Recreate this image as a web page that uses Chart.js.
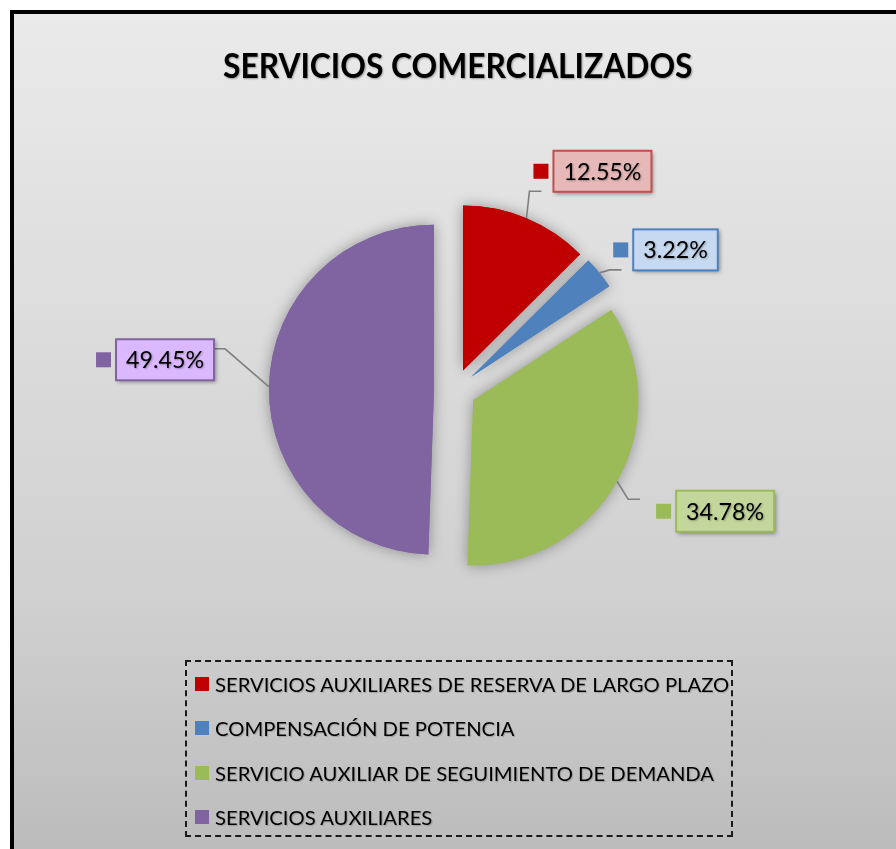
<!DOCTYPE html>
<html>
<head>
<meta charset="utf-8">
<script src="https://cdn.jsdelivr.net/npm/chart.js@4.4.1/dist/chart.umd.min.js"></script>
<style>
  html, body { margin: 0; padding: 0; background: #fff; }
  body { width: 896px; height: 849px; position: relative; overflow: hidden; font-family: Lato, "Open Sans", sans-serif; }
  #frame {
    position: absolute; left: 10px; top: 10px; width: 882px; height: 835px;
    border-left: 4px solid #000; border-top: 4px solid #000;
    background: linear-gradient(#eaeaea, #d0d0d0 70%, #bcbcbc);
  }
  #pie { position: absolute; left: 0; top: 0; }
  #title {
    position: absolute; left: 0; top: 47px; width: 915px; text-align: center;
    font-weight: bold; font-size: 35px; line-height: 35px; color: #000;
    text-shadow: 1px 1px 2px rgba(0,0,0,0.35); white-space: nowrap;
  }
  #title span { display: inline-block; }
  #legend {
    position: absolute; left: 185px; top: 660px; width: 544px; height: 173px;
    border: 2px dashed #1a1a1a;
  }
  .row { position: absolute; left: 8px; height: 20px; white-space: nowrap; }
  .row i { position: absolute; left: 0; top: 3px; width: 14px; height: 14px; }
  .row span {
    position: absolute; left: 20px; top: 0; font-size: 20px; line-height: 20px;
    transform-origin: 0 0; text-shadow: 1px 1px 1px rgba(0,0,0,0.2);
  }
</style>
</head>
<body>
<div id="frame"></div>
<canvas id="pie" width="896" height="849"></canvas>
<div id="title"><span>SERVICIOS COMERCIALIZADOS</span></div>
<div id="legend"></div>
<script>
const categories = [
  'SERVICIOS AUXILIARES DE RESERVA DE LARGO PLAZO',
  'COMPENSACIÓN DE POTENCIA',
  'SERVICIO AUXILIAR DE SEGUIMIENTO DE DEMANDA',
  'SERVICIOS AUXILIARES'
];
const shares = [12.55, 3.22, 34.78, 49.45];

const sliceColors = ['#c00000', '#4f81bd', '#9bbb59', '#8064a2'];
const boxFills = ['#e6b9b8', '#c6d9f1', '#c3d69b', '#dbb8ff'];
const boxLines = ['#c0504d', '#4f81bd', '#9bbb59', '#8064a2'];
// label box centre, measured from the rim point of its slice
const labelShift = [[76, -47], [76, -23], [108, 30], [-104, -27]];
// where the leader line meets the label, from the box centre
const leaderEnd = [[-61, 20], [-54, 20], [-85, -12], [48, -11]];
const explode = 21;

// title squeezed to the narrow look of the original
const titleSpan = document.querySelector('#title span');
titleSpan.style.transform = 'scaleX(' + (469 / titleSpan.offsetWidth) + ')';

// legend
const legend = document.getElementById('legend');
categories.forEach((name, i) => {
  const row = document.createElement('div');
  row.className = 'row';
  row.style.top = (11.5 + 44.6 * i) + 'px';
  row.innerHTML = '<i style="background:' + sliceColors[i] + '"></i><span>' + name + '</span>';
  legend.appendChild(row);
});
const spans = legend.querySelectorAll('.row span');
const squeezeLegend = 514 / spans[0].offsetWidth;
spans.forEach(s => s.style.transform = 'scaleX(' + squeezeLegend + ')');

const explodedPie = {
  id: 'explodedPie',
  beforeDatasetDraw(chart, args) {
    const ctx = chart.ctx;
    const arcs = args.meta.data;
    [0, 1].forEach(pass => {
      arcs.forEach(arc => {
        const mid = (arc.startAngle + arc.endAngle) / 2;
        ctx.save();
        if (pass === 0) {
          ctx.shadowColor = 'rgba(0,0,0,0.35)';
          ctx.shadowBlur = 14;
        }
        ctx.translate(Math.cos(mid) * explode, Math.sin(mid) * explode);
        arc.draw(ctx);
        ctx.restore();
      });
    });
    return false;
  },
  afterDatasetsDraw(chart) {
    const ctx = chart.ctx;
    const arcs = chart.getDatasetMeta(0).data;
    ctx.save();
    ctx.font = '24px Lato';
    const squeeze = 78 / ctx.measureText('12.55%').width;
    arcs.forEach((arc, i) => {
      const mid = (arc.startAngle + arc.endAngle) / 2;
      const r = arc.outerRadius + explode;
      const px = arc.x + Math.cos(mid) * r;
      const py = arc.y + Math.sin(mid) * r;
      const cx = px + labelShift[i][0];
      const cy = py + labelShift[i][1];
      const text = shares[i].toFixed(2) + '%';
      const tw = ctx.measureText(text).width * squeeze;
      const bw = tw + 20, bh = 41;
      const bx = cx - bw / 2, by = cy - bh / 2;

      // leader line
      const qx = cx + leaderEnd[i][0], qy = cy + leaderEnd[i][1];
      const ex = qx + (leaderEnd[i][0] < 0 ? -12 : 12);
      ctx.strokeStyle = '#7f7f7f';
      ctx.lineWidth = 1.6;
      ctx.beginPath();
      ctx.moveTo(px, py);
      ctx.lineTo(ex, qy);
      ctx.lineTo(qx, qy);
      ctx.stroke();

      // legend key square
      ctx.fillStyle = sliceColors[i];
      ctx.fillRect(bx - 20, cy - 7.5, 15, 15);

      // box with shadow
      ctx.save();
      ctx.shadowColor = 'rgba(0,0,0,0.4)';
      ctx.shadowBlur = 4;
      ctx.shadowOffsetX = 2;
      ctx.shadowOffsetY = 2;
      ctx.fillStyle = boxFills[i];
      ctx.fillRect(bx, by, bw, bh);
      ctx.restore();
      ctx.strokeStyle = boxLines[i];
      ctx.lineWidth = 2;
      ctx.strokeRect(bx, by, bw, bh);

      // value
      ctx.save();
      ctx.translate(cx, cy + 8.5);
      ctx.scale(squeeze, 1);
      ctx.shadowColor = 'rgba(0,0,0,0.3)';
      ctx.shadowBlur = 2;
      ctx.shadowOffsetX = 1;
      ctx.shadowOffsetY = 1;
      ctx.fillStyle = '#000';
      ctx.textAlign = 'center';
      ctx.textBaseline = 'alphabetic';
      ctx.fillText(text, 0, 0);
      ctx.restore();
    });
    ctx.restore();
  }
};

new Chart(document.getElementById('pie').getContext('2d'), {
  type: 'pie',
  data: {
    labels: categories,
    datasets: [{
      data: shares,
      backgroundColor: sliceColors,
      borderWidth: 0
    }]
  },
  options: {
    responsive: false,
    devicePixelRatio: 1,
    animation: false,
    events: [],
    layout: { padding: { left: 290, right: 276, top: 225, bottom: 294 } },
    plugins: {
      legend: { display: false },
      tooltip: { enabled: false },
      title: { display: false }
    }
  },
  plugins: [explodedPie]
});
</script>
</body>
</html>
